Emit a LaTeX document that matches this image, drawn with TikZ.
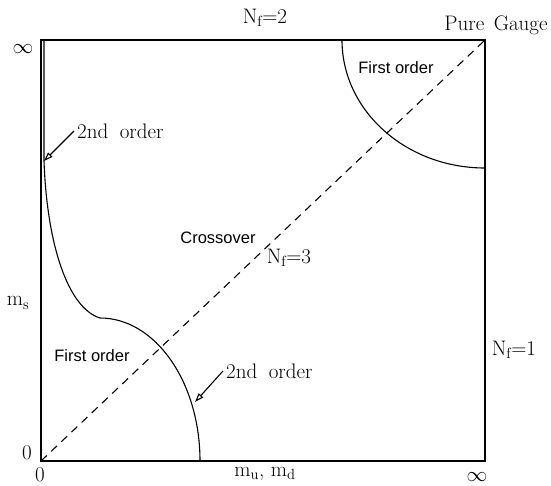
\documentclass[tikz,border=0pt]{standalone}
\usepackage{fontspec}
\newfontfamily\arialfont{Liberation Sans}
\usetikzlibrary{arrows.meta}
\begin{document}
\begin{tikzpicture}[x=1pt, y=-1pt, every node/.style={inner sep=0pt, font=\fontsize{21}{21}\selectfont},
  sanslabel/.style={font=\arialfont\fontsize{16.5}{16.5}\selectfont},
  pointer/.style={line width=1.1pt, -{Triangle[open,length=9pt,width=6pt]}},
  phase/.style={line width=1.1pt}]
\useasboundingbox (0,0) rectangle (551,485);
\begin{scope}
\coordinate (o) at (41,461);
\coordinate (tl) at (41,40);
\coordinate (tr) at (485,40);
\coordinate (br) at (485,461);
\draw[line width=1.6pt] (tl) rectangle (br);
\draw[phase, dash pattern=on 8pt off 6pt] (o) -- (tr);
\end{scope}

% phase boundaries
\coordinate (top) at (44,40);
\coordinate (tip) at (44,161);
\coordinate (kink) at (100,318);
\coordinate (arcstart) at (342,40);
\coordinate (hit) at (195,402);
\draw[phase] (top) -- (tip) .. controls (47,245) and (68,308) .. (kink)
  arc[start angle=-90, end angle=0, x radius=100, y radius=143];
\draw[phase] (arcstart) arc[start angle=180, end angle=90, x radius=143, y radius=128];

% labels
\node (nf2) at (265,18) {N\textsubscript{f}=2};
\node (pure) at (496,25) {Pure\hspace{0.45em}Gauge};
\node (infl) at (23,49) {$\infty$};
\node (infb) at (477,477) {$\infty$};
\node (zerol) at (27,453) {0};
\node (zerob) at (40,475) {0};
\node (ms) at (18,303) {m\textsubscript{s}};
\node (mud) at (265,474) {m\textsubscript{u}, m\textsubscript{d}};
\node (nf1) at (514,350) {N\textsubscript{f}=1};
\node (nf3) at (289,258) {N\textsubscript{f}=3};
\node[anchor=west] (ord2a) at (77,131) {2nd\hspace{0.55em}order};
\node[anchor=west] (ord2b) at (226,371) {2nd\hspace{0.55em}order};
\node[sanslabel] (first1) at (396,68) {First order};
\node[sanslabel] (first2) at (92,356) {First order};
\node[sanslabel] (cross) at (218,238) {Crossover};
\draw[pointer] ([xshift=-3pt]ord2a.west) -- (tip);
\draw[pointer] ([xshift=-3pt]ord2b.west) -- (hit);
\end{tikzpicture}
\end{document}
